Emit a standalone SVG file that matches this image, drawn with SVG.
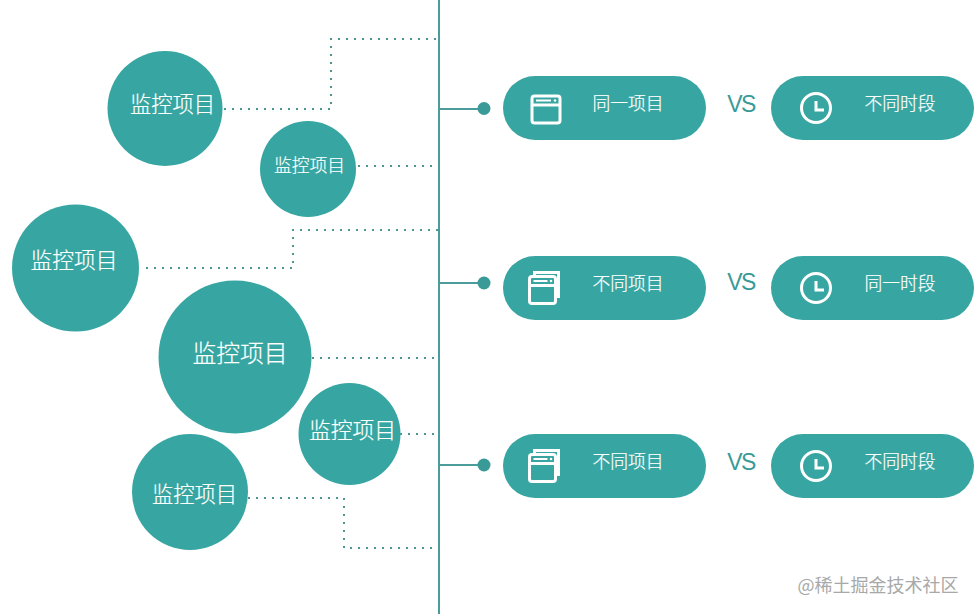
<svg xmlns="http://www.w3.org/2000/svg" width="976" height="614" viewBox="0 0 976 614">
<defs>
<style>
.t{fill:#fff;font-family:"Noto Sans CJK SC","Liberation Sans",sans-serif;text-anchor:middle;font-weight:300;stroke:#fff;stroke-width:.2}
.b{fill:#37a6a2}
.s{fill:#3a9a98}
.dot{fill:none;stroke:#4f9690;stroke-width:2;stroke-dasharray:2 6}
.ln{fill:none;stroke:#4a9c9b;stroke-width:2}
.ic{fill:none;stroke:#fff;stroke-width:3}
.vs{fill:#3a9a98;font-family:"Liberation Sans",sans-serif;font-size:23px;letter-spacing:-1.500px;text-anchor:middle}
</style>
<g id="win"><rect x="0" y="0" width="28" height="27" rx="2.500" class="ic"/><path d="M1 9H27" class="ic"/><path d="M4 4.500H19" stroke="#fff" stroke-width="2"/><circle cx="23" cy="4.500" r="1.300" fill="#fff"/></g>
<g id="win2"><path d="M5 -1V-4H29V20H27" class="ic"/><rect x="0" y="0" width="26" height="27" rx="2.500" class="ic"/><path d="M1 9H25" class="ic"/><path d="M4 4.500H18" stroke="#fff" stroke-width="2"/><circle cx="21.500" cy="4.500" r="1.300" fill="#fff"/></g>
<g id="clk"><circle cx="0" cy="0" r="14.500" class="ic"/><path d="M0 -7V2H8" class="ic"/></g>
</defs>
<rect width="976" height="614" fill="#fff"/>
<g id="connectors">
<path class="ln" d="M439 0V614"/>
<path class="ln" d="M439 109H484M439 283H484M439 465H484"/>
<path class="dot" d="M224 109H331V39H436"/>
<path class="dot" d="M358 166H434"/>
<path class="dot" d="M146 268H293V230H438"/>
<path class="dot" d="M312 358H436"/>
<path class="dot" d="M400 434H438"/>
<path class="dot" d="M248 498H344V548H439"/>
<circle class="s" cx="484" cy="108.500" r="6.500"/><circle class="s" cx="484" cy="283" r="6.500"/><circle class="s" cx="484" cy="465" r="6.500"/>
</g>
<g id="node-c1"><circle class="b" cx="165" cy="108.500" r="57.500"/><text class="t" x="172.500" y="112" font-size="21.300">监控项目</text></g>
<g id="node-c2"><circle class="b" cx="308" cy="169" r="48"/><text class="t" x="309.500" y="172" font-size="17.800">监控项目</text></g>
<g id="node-c3"><circle class="b" cx="75.500" cy="268" r="63.500"/><text class="t" x="74" y="268" font-size="21.800">监控项目</text></g>
<g id="node-c4"><circle class="b" cx="235" cy="357" r="76.500"/><text class="t" x="240" y="362" font-size="23.800">监控项目</text></g>
<g id="node-c5"><circle class="b" cx="349.500" cy="434" r="51"/><text class="t" x="352.500" y="438" font-size="21.800">监控项目</text></g>
<g id="node-c6"><circle class="b" cx="190" cy="492" r="58"/><text class="t" x="194.500" y="502" font-size="21.300">监控项目</text></g>
<g id="node-p1"><rect class="b" x="503" y="76" width="203" height="64" rx="32"/><use href="#win" x="532" y="96"/><text class="t" x="628" y="110" font-size="17.800">同一项目</text></g>
<g id="node-q1"><rect class="b" x="771" y="76" width="203" height="64" rx="32"/><use href="#clk" x="816" y="108"/><text class="t" x="900" y="110" font-size="17.800">不同时段</text></g>
<g id="node-p2"><rect class="b" x="503" y="256" width="203" height="64" rx="32"/><use href="#win2" x="529.500" y="276.500"/><text class="t" x="628" y="290" font-size="17.800">不同项目</text></g>
<g id="node-q2"><rect class="b" x="771" y="256" width="203" height="64" rx="32"/><use href="#clk" x="816" y="288"/><text class="t" x="900" y="290" font-size="17.800">同一时段</text></g>
<g id="node-p3"><rect class="b" x="503" y="434" width="203" height="64" rx="32"/><use href="#win2" x="529.500" y="454.500"/><text class="t" x="628" y="468" font-size="17.800">不同项目</text></g>
<g id="node-q3"><rect class="b" x="771" y="434" width="203" height="64" rx="32"/><use href="#clk" x="816" y="466"/><text class="t" x="900" y="468" font-size="17.800">不同时段</text></g>
<text class="vs" x="741" y="112">VS</text>
<text class="vs" x="741" y="290">VS</text>
<text class="vs" x="741" y="470">VS</text>
<text x="878" y="592" font-size="18" fill="#a8a8a8" text-anchor="middle" font-family="'Noto Sans CJK SC','Liberation Sans',sans-serif">@稀土掘金技术社区</text>
</svg>
